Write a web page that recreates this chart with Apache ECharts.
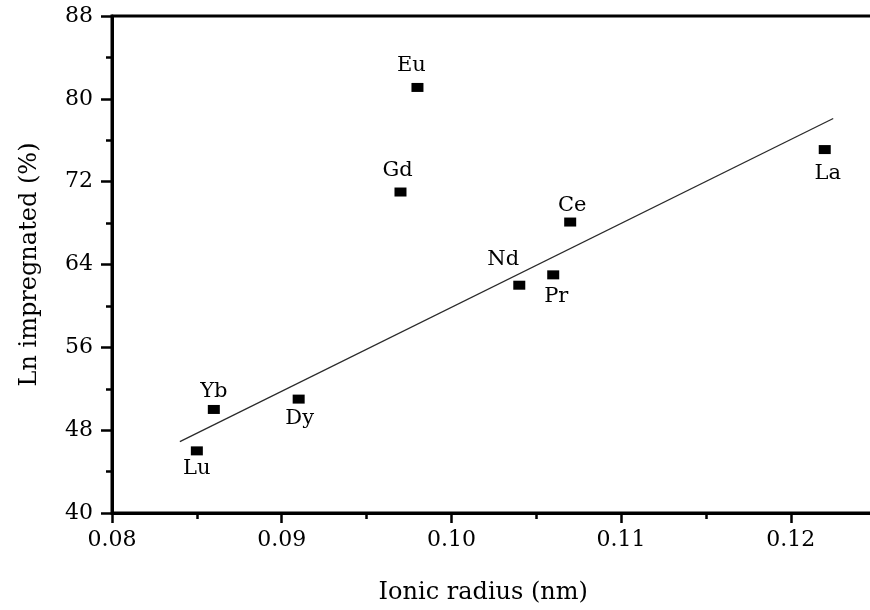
<!DOCTYPE html>
<html>
<head>
<meta charset="utf-8">
<script src="https://cdn.jsdelivr.net/npm/echarts@6/dist/echarts.min.js"></script>
<style>
  html, body { margin: 0; padding: 0; background: #fff; }
  #chart { width: 870px; height: 610px; }
</style>
</head>
<body>
<div id="chart"></div>
<script>
// Data
var elements = ['Lu', 'Yb', 'Dy', 'Gd', 'Eu', 'Nd', 'Pr', 'Ce', 'La'];
var ionicRadius = [0.085, 0.086, 0.091, 0.097, 0.098, 0.104, 0.106, 0.107, 0.122];
var lnImpregnated = [46.0, 50.0, 51.0, 71.0, 81.1, 62.0, 63.0, 68.1, 75.1];
var fitX = [0.084, 0.1225];
var fitY = [46.9, 78.1];
var yTicks = [40, 48, 56, 64, 72, 80, 88];
var xTicks = [0.08, 0.09, 0.10, 0.11, 0.12, 0.13];

// Label placement (styling only)
var labelOffsets = {
  Lu: [0, 18], Yb: [0, -18], Dy: [1, 19], Gd: [-3, -21], Eu: [-6, -22],
  Nd: [-16, -26], Pr: [3, 22], Ce: [2, -17], La: [3, 24]
};

var FONT = 'DejaVu Serif';
var TXT = '#000';

var chart = echarts.init(document.getElementById('chart'), null, { renderer: 'canvas' });

var scatterData = elements.map(function (name, i) {
  return {
    name: name,
    value: [ionicRadius[i], lnImpregnated[i]],
    label: {
      show: true,
      formatter: name,
      position: 'inside',
      offset: labelOffsets[name],
      fontFamily: FONT,
      fontSize: 21,
      color: TXT
    }
  };
});

var xStep = xTicks[1] - xTicks[0];
var yStep = yTicks[1] - yTicks[0];

chart.setOption({
  animation: false,
  backgroundColor: '#fff',
  grid: {
    left: 112,
    top: 16,
    width: 848.5,
    height: 497,
    outerBoundsMode: 'none',
    containLabel: false,
    show: true,
    borderColor: '#000',
    borderWidth: 3,
    backgroundColor: 'transparent'
  },
  xAxis: {
    type: 'value',
    min: xTicks[0],
    max: xTicks[xTicks.length - 1],
    interval: xStep,
    name: 'Ionic radius (nm)',
    nameLocation: 'middle',
    nameGap: 68,
    nameTextStyle: { fontFamily: FONT, fontSize: 24, color: TXT, padding: [0, 106, 0, 0] },
    axisLine: { show: true, lineStyle: { color: '#000', width: 3 } },
    axisTick: { show: true, inside: false, length: 10, lineStyle: { color: '#000', width: 2.5 } },
    minorTick: { show: true, splitNumber: 2, length: 6, lineStyle: { color: '#000', width: 2.5 } },
    axisLabel: {
      margin: 16,
      fontFamily: FONT,
      fontSize: 22,
      color: TXT,
      formatter: function (v) { return v.toFixed(2); }
    },
    splitLine: { show: false }
  },
  yAxis: {
    type: 'value',
    min: yTicks[0],
    max: yTicks[yTicks.length - 1],
    interval: yStep,
    name: 'Ln impregnated (%)',
    nameLocation: 'middle',
    nameGap: 70,
    nameTextStyle: { fontFamily: FONT, fontSize: 24, color: TXT },
    axisLine: { show: true, lineStyle: { color: '#000', width: 3 } },
    axisTick: { show: true, inside: false, length: 11, lineStyle: { color: '#000', width: 2.5 } },
    minorTick: { show: true, splitNumber: 2, length: 6, lineStyle: { color: '#000', width: 2.5 } },
    axisLabel: {
      margin: 19,
      fontFamily: FONT,
      fontSize: 22,
      color: TXT
    },
    splitLine: { show: false }
  },
  series: [
    {
      type: 'line',
      data: fitX.map(function (x, i) { return [x, fitY[i]]; }),
      symbol: 'none',
      lineStyle: { color: '#2a2a2a', width: 1.3 },
      z: 2
    },
    {
      type: 'scatter',
      symbol: 'rect',
      symbolSize: [12, 9],
      itemStyle: { color: '#000', opacity: 1 },
      data: scatterData,
      z: 3
    }
  ]
});
</script>
</body>
</html>
